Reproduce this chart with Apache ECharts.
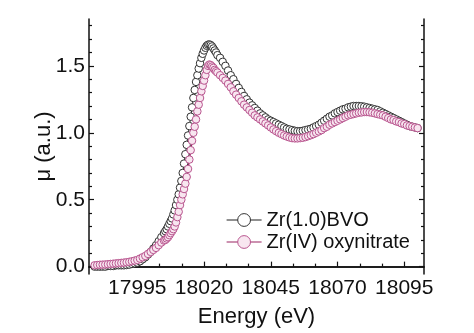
<!DOCTYPE html>
<html>
<head>
<meta charset="utf-8">
<script src="https://cdn.jsdelivr.net/npm/echarts@6/dist/echarts.min.js"></script>
<style>html,body{margin:0;padding:0;background:#fff;}#c{width:474px;height:333px;}</style>
</head>
<body>
<div id="c"></div>
<script>
var energy = [
17979,17980,17981,17982,17983,17984,17985,17986,17987,17988,17989,17990,17991,17992,17993,17994,17995,17996,17997,17998,17999,18000,18001,18002,18003,18004,18005,
18005.5,18006,18006.5,18007,18007.5,18008,18008.5,18009,18009.5,18010,
18010.5,18011,18011.5,18012,18012.5,18013,18013.5,18014,18014.5,18015,
18015.5,18016,18016.5,18017,18017.5,18018,18018.5,18019,18019.5,18020,
18020.5,18021,18021.5,18022,18022.5,18023,18023.5,18024,18024.5,18025,
18026,18027,18028,18029,18030,18031,18032,18033,18034,18035,
18036,18037,18038,18039,18040,18041,18042,18043,18044,18045,
18046,18047,18048,18049,18050,18051,18052,18053,18054,18055,
18056,18057,18058,18059,18060,18061,18062,18063,18064,18065,
18066,18067,18068,18069,18070,18071,18072,18073,18074,18075,
18076,18077,18078,18079,18080,18081,18082,18083,18084,18085,
18086,18087,18088,18089,18090,18091,18092,18093,18094,18095,
18096,18097,18098,18099,18100
];
var zrBVO = [
0.00,0.00,0.00,0.00,0.00,0.005,0.005,0.005,0.01,0.01,0.01,0.01,0.012,0.015,0.02,0.025,0.03,0.04,0.055,0.07,0.09,0.11,0.135,0.16,0.19,0.22,0.25,
0.265,0.28,0.30,0.32,0.34,0.36,0.39,0.42,0.46,0.50,
0.54,0.59,0.64,0.70,0.77,0.84,0.91,0.98,1.05,1.12,
1.19,1.26,1.32,1.38,1.43,1.48,1.52,1.56,1.59,1.615,
1.635,1.65,1.658,1.66,1.655,1.645,1.63,1.615,1.60,1.58,
1.56,1.53,1.50,1.465,1.43,1.40,1.365,1.335,1.305,1.275,
1.25,1.225,1.205,1.185,1.165,1.145,1.13,1.115,1.10,1.09,
1.08,1.07,1.06,1.05,1.04,1.03,1.025,1.02,1.015,1.012,
1.012,1.015,1.02,1.025,1.03,1.04,1.05,1.06,1.075,1.09,
1.105,1.12,1.13,1.145,1.155,1.165,1.175,1.18,1.19,1.195,
1.20,1.20,1.20,1.198,1.195,1.19,1.185,1.18,1.175,1.17,
1.16,1.15,1.14,1.13,1.12,1.11,1.10,1.09,1.08,1.07,
1.06,1.05,1.045,1.04,1.035
];
var zrOxy = [
0.01,0.012,0.014,0.015,0.016,0.018,0.02,0.022,0.024,0.026,0.028,0.03,0.033,0.036,0.04,0.045,0.05,0.06,0.07,0.08,0.095,0.11,0.125,0.14,0.16,0.18,0.195,
0.20,0.21,0.22,0.235,0.25,0.265,0.28,0.30,0.33,0.37,
0.41,0.46,0.50,0.54,0.58,0.62,0.67,0.73,0.80,0.87,
0.94,1.00,1.045,1.10,1.16,1.21,1.26,1.31,1.35,1.39,
1.43,1.47,1.50,1.51,1.505,1.495,1.485,1.47,1.46,1.45,
1.43,1.41,1.39,1.365,1.34,1.31,1.285,1.26,1.235,1.21,
1.19,1.17,1.15,1.13,1.115,1.10,1.085,1.07,1.055,1.04,
1.025,1.012,1.00,0.99,0.98,0.972,0.965,0.96,0.958,0.958,
0.96,0.963,0.968,0.975,0.982,0.99,1.00,1.01,1.02,1.035,
1.045,1.06,1.07,1.08,1.09,1.10,1.11,1.12,1.13,1.135,
1.14,1.145,1.15,1.152,1.155,1.155,1.153,1.15,1.145,1.14,
1.135,1.13,1.12,1.11,1.10,1.095,1.085,1.08,1.07,1.065,
1.055,1.05,1.045,1.04,1.035
];
var xMajorTicks = [17995, 18020, 18045, 18070, 18095];
var xMinorTicks = [17986.667, 18003.333, 18011.667, 18028.333, 18036.667, 18053.333, 18061.667, 18078.333, 18086.667];
var yMajorTicks = [0, 0.5, 1.0, 1.5];
var yMinorTicks = [0.1, 0.2, 0.3, 0.4, 0.6, 0.7, 0.8, 0.9, 1.1, 1.2, 1.3, 1.4, 1.6, 1.7, 1.8];
var seriesNames = ['Zr(1.0)BVO', 'Zr(IV) oxynitrate'];

function pairs(xs, ys) { return xs.map(function (x, i) { return [x, ys[i]]; }); }

var FONT = '"Liberation Sans", Arial, sans-serif';
var XMIN = 17976.9, XMAX = 18102.4, YMIN = -0.055, YMAX = 1.85;
var lineStyleAxis = { show: true, lineStyle: { color: '#111', width: 1.5 } };

var chart = echarts.init(document.getElementById('c'), null, { renderer: 'canvas' });
chart.setOption({
  animation: false,
  backgroundColor: '#fff',
  grid: { left: 89, top: 19, width: 335, height: 255, containLabel: false },
  legend: {
    orient: 'vertical', left: 221, top: 205, itemWidth: 35, itemHeight: 16, itemGap: 2,
    itemStyle: { borderWidth: 1 },
    lineStyle: { width: 1.2 },
    textStyle: { fontFamily: FONT, fontSize: 20, color: '#111' },
    data: seriesNames
  },
  xAxis: [
    { type: 'value', min: XMIN, max: XMAX, position: 'bottom',
      name: 'Energy (eV)', nameLocation: 'middle', nameGap: 32, nameMoveOverlap: false,
      nameTextStyle: { fontFamily: FONT, fontSize: 22, color: '#111' },
      axisLine: lineStyleAxis,
      axisTick: { show: true, inside: true, length: 5, customValues: xMajorTicks, lineStyle: { color: '#111', width: 1.2 } },
      axisLabel: { show: true, margin: 4, customValues: xMajorTicks, fontFamily: FONT, fontSize: 21, color: '#111',
        formatter: function (v) { return String(Math.round(v)); } },
      splitLine: { show: false } },
    { type: 'value', min: XMIN, max: XMAX, position: 'bottom',
      axisLine: { show: false },
      axisTick: { show: true, inside: true, length: 3, customValues: xMinorTicks, lineStyle: { color: '#111', width: 1.2 } },
      axisLabel: { show: false }, splitLine: { show: false } },
    { type: 'value', min: XMIN, max: XMAX, position: 'top',
      axisLine: lineStyleAxis, axisTick: { show: false }, axisLabel: { show: false }, splitLine: { show: false } }
  ],
  yAxis: [
    { type: 'value', min: YMIN, max: YMAX, position: 'left',
      name: 'μ (a.u.)', nameLocation: 'middle', nameGap: 34, nameRotate: 90, nameMoveOverlap: false,
      nameTextStyle: { fontFamily: FONT, fontSize: 22, color: '#111' },
      axisLine: lineStyleAxis,
      axisTick: { show: true, inside: true, length: 5, customValues: yMajorTicks, lineStyle: { color: '#111', width: 1.2 } },
      axisLabel: { show: true, margin: 4, customValues: yMajorTicks, fontFamily: FONT, fontSize: 21, color: '#111',
        formatter: function (v) { return v.toFixed(1); } },
      splitLine: { show: false } },
    { type: 'value', min: YMIN, max: YMAX, position: 'left',
      axisLine: { show: false },
      axisTick: { show: true, inside: true, length: 3, customValues: yMinorTicks, lineStyle: { color: '#111', width: 1.2 } },
      axisLabel: { show: false }, splitLine: { show: false } },
    { type: 'value', min: YMIN, max: YMAX, position: 'right',
      axisLine: lineStyleAxis,
      axisTick: { show: true, inside: true, length: 5, customValues: yMajorTicks, lineStyle: { color: '#111', width: 1.2 } },
      axisLabel: { show: false }, splitLine: { show: false } },
    { type: 'value', min: YMIN, max: YMAX, position: 'right',
      axisLine: { show: false },
      axisTick: { show: true, inside: true, length: 3, customValues: yMinorTicks, lineStyle: { color: '#111', width: 1.2 } },
      axisLabel: { show: false }, splitLine: { show: false } }
  ],
  series: [
    { name: seriesNames[0], type: 'line', xAxisIndex: 0, yAxisIndex: 0,
      data: pairs(energy, zrBVO), symbol: 'circle', symbolSize: 7.5, showAllSymbol: true,
      lineStyle: { color: '#222', width: 1 },
      itemStyle: { color: '#ffffff', borderColor: '#333', borderWidth: 1 } },
    { name: seriesNames[1], type: 'line', xAxisIndex: 0, yAxisIndex: 0,
      data: pairs(energy, zrOxy), symbol: 'circle', symbolSize: 7.5, showAllSymbol: true,
      lineStyle: { color: '#9a2462', width: 1.5 },
      itemStyle: { color: '#f8e6f0', borderColor: '#b9558f', borderWidth: 1 } }
  ]
});
</script>
</body>
</html>
